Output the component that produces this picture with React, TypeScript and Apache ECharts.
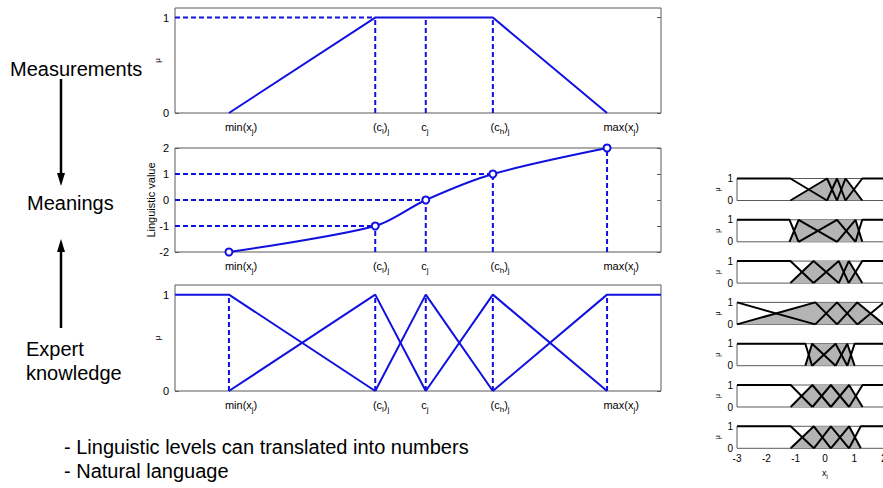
import React, { useEffect, useRef } from "react";
import * as echarts from "echarts";

// ---------- data ----------
// key positions along the x axis of the three main panels (0..100 scale)
const keyPointX = [11.1, 41.2, 51.6, 65.4, 88.9];
// positions of the tick labels (as drawn in the reference)
const tickLabelX = [13.6, 42.4, 51.4, 66.9, 91.8];
const tickLabels = ["min(x_j)", "(c_l)_j", "c_j", "(c_h)_j", "max(x_j)"];
// top panel: trapezoidal membership value at each key point
const measurementMu = [0, 1, 1, 1, 0];
// middle panel: linguistic value at each key point
const linguisticValues = [-2, -1, 0, 1, 2];
// small panels: peak positions of the 5 membership functions
const smallPeaks1 = [-1.18, 0.07, 0.41, 0.7, 1.27];
const smallPeaks2 = [-1.21, -0.9, 0.41, 1.04, 1.27];
const smallPeaks3 = [-1.18, -0.39, 0.47, 0.81, 1.27];
const smallPeaks4 = [-3.0, -0.33, 0.41, 1.1, 2.01];
const smallPeaks5 = [-0.67, -0.44, 0.36, 0.76, 1.01];
const smallPeaks6 = [-1.17, -0.43, 0.2, 0.82, 1.28];
const smallPeaks7 = [-1.17, -0.38, 0.2, 0.82, 1.22];
const smallPanels = [smallPeaks1, smallPeaks2, smallPeaks3, smallPeaks4, smallPeaks5, smallPeaks6, smallPeaks7];
const smallXTicks = [-3, -2, -1, 0, 1, 2];

// ---------- styling ----------
const FONT = '"Liberation Sans", Arial, Helvetica, sans-serif';
const BLUE = "#1010e0";
const BORDER = "#5a5a5a";
const DASH = [5, 3];

const rich = {
  n: { fontSize: 11, color: "#000", verticalAlign: "top", lineHeight: 13, fontFamily: FONT },
  s: { fontSize: 8, color: "#000", verticalAlign: "top", lineHeight: 9, padding: [6, 0, 0, 0], fontFamily: FONT },
};
const richSmall = {
  n: { fontSize: 9, color: "#000", verticalAlign: "top", lineHeight: 11, fontFamily: FONT },
  s: { fontSize: 6, color: "#000", verticalAlign: "top", lineHeight: 7, padding: [5, 0, 0, 0], fontFamily: FONT },
};

function richLabel(s: string): string {
  let out = "";
  let buf = "";
  let i = 0;
  while (i < s.length) {
    if (s[i] === "_") {
      if (buf) out += `{n|${buf}}`;
      buf = "";
      out += `{s|${s[i + 1]}}`;
      i += 2;
    } else {
      buf += s[i];
      i++;
    }
  }
  if (buf) out += `{n|${buf}}`;
  return out;
}

const MAIN_GRIDS = [
  { left: 175, top: 8, width: 486, height: 105 },
  { left: 175, top: 148, width: 486, height: 104 },
  { left: 175, top: 285, width: 486, height: 106 },
];
const SMALL_TOP0 = 178.5;
const SMALL_STEP = 41.3;
const SMALL_H = 22;

function buildOption() {
  const grid: any[] = [];
  const xAxis: any[] = [];
  const yAxis: any[] = [];
  const series: any[] = [];

  MAIN_GRIDS.forEach((g) => grid.push({ ...g, show: true, borderColor: BORDER, borderWidth: 1, backgroundColor: "#fff" }));
  smallPanels.forEach((_, i) =>
    grid.push({ left: 737, width: 176, top: SMALL_TOP0 + i * SMALL_STEP, height: SMALL_H, show: true, borderColor: BORDER, borderWidth: 1, backgroundColor: "#fff" })
  );

  // main axes
  const yRanges = [
    { min: 0, max: 1.1, ticks: [0, 1], name: "μ", nameSize: 8, gap: 14 },
    { min: -2, max: 2, ticks: [-2, -1, 0, 1, 2], name: "Linguistic value", nameSize: 11, gap: 19 },
    { min: 0, max: 1.1, ticks: [0, 1], name: "μ", nameSize: 8, gap: 14 },
  ];
  MAIN_GRIDS.forEach((_, i) => {
    xAxis.push({
      gridIndex: i,
      type: "value",
      min: 0,
      max: 100,
      axisLine: { show: false },
      axisTick: { show: false },
      splitLine: { show: false },
      axisLabel: {
        customValues: tickLabelX,
        margin: 8,
        rich,
        formatter: (v: number) => {
          const idx = tickLabelX.indexOf(v);
          return idx >= 0 ? richLabel(tickLabels[idx]) : "";
        },
      },
    });
    const r = yRanges[i];
    yAxis.push({
      gridIndex: i,
      type: "value",
      min: r.min,
      max: r.max,
      axisLine: { show: false },
      splitLine: { show: false },
      axisTick: { show: true, inside: true, length: 4, customValues: r.ticks, lineStyle: { color: BORDER } },
      axisLabel: { customValues: r.ticks, color: "#000", fontSize: 11, margin: 6, fontFamily: FONT },
      name: r.name,
      nameLocation: "middle",
      nameRotate: 90,
      nameGap: r.gap,
      nameMoveOverlap: false,
      nameTextStyle: { fontSize: r.nameSize, color: "#000", fontFamily: FONT },
    });
    yAxis.push({
      gridIndex: i,
      type: "value",
      position: "right",
      min: r.min,
      max: r.max,
      axisLine: { show: false },
      splitLine: { show: false },
      axisTick: { show: true, inside: true, length: 4, customValues: r.ticks, lineStyle: { color: BORDER } },
      axisLabel: { show: false },
    });
  });

  // small axes
  smallPanels.forEach((_, i) => {
    const gi = 3 + i;
    const last = i === smallPanels.length - 1;
    xAxis.push({
      gridIndex: gi,
      type: "value",
      min: -3,
      max: 3,
      interval: 1,
      axisLine: { show: false },
      splitLine: { show: false },
      axisTick: { show: false },
      axisLabel: last
        ? { show: true, customValues: smallXTicks, fontSize: 10, color: "#000", margin: 5, fontFamily: FONT }
        : { show: false },
      name: last ? richLabel("x_j") : "",
      nameLocation: "middle",
      nameGap: 20,
      nameMoveOverlap: false,
      nameTextStyle: { rich: richSmall },
    });
    yAxis.push({
      gridIndex: gi,
      type: "value",
      min: 0,
      max: 1,
      axisLine: { show: false },
      splitLine: { show: false },
      axisTick: { show: false },
      axisLabel: { customValues: [0, 1], fontSize: 10, color: "#000", margin: 4, fontFamily: FONT },
      name: "μ",
      nameLocation: "middle",
      nameRotate: 90,
      nameGap: 16,
      nameMoveOverlap: false,
      nameTextStyle: { fontSize: 7, color: "#000", fontFamily: FONT },
    });
  });

  const seg = (xi: number, yi: number, data: number[][], dashed: boolean, color = BLUE, width = 2) => ({
    type: "line",
    xAxisIndex: xi,
    yAxisIndex: yi,
    data,
    symbol: "none",
    clip: false,
    silent: true,
    lineStyle: { color, width, type: dashed ? DASH : "solid" },
    z: dashed ? 3 : 4,
  });

  // ---- top panel (axes x0, y0) ----
  series.push(seg(0, 0, keyPointX.map((x, i) => [x, measurementMu[i]]), false));
  series.push(seg(0, 0, [[0, 1], [keyPointX[1], 1]], true));
  [1, 2, 3].forEach((k) => series.push(seg(0, 0, [[keyPointX[k], 0], [keyPointX[k], 1]], true)));

  // ---- middle panel (axes x1, y2) ----
  [1, 2, 3].forEach((k) => series.push(seg(1, 2, [[0, linguisticValues[k]], [keyPointX[k], linguisticValues[k]]], true)));
  [1, 2, 3, 4].forEach((k) => series.push(seg(1, 2, [[keyPointX[k], -2], [keyPointX[k], linguisticValues[k]]], true)));
  series.push({
    type: "line",
    xAxisIndex: 1,
    yAxisIndex: 2,
    data: keyPointX.map((x, i) => [x, linguisticValues[i]]),
    smooth: 0.3,
    symbol: "emptyCircle",
    symbolSize: 7,
    clip: false,
    itemStyle: { color: BLUE, borderColor: BLUE, borderWidth: 1.8 },
    lineStyle: { color: BLUE, width: 2 },
    z: 5,
  });

  // ---- bottom panel (axes x2, y4) ----
  const k = keyPointX;
  const mfs = [
    [[0, 1], [k[0], 1], [k[1], 0]],
    [[k[0], 0], [k[1], 1], [k[2], 0]],
    [[k[1], 0], [k[2], 1], [k[3], 0]],
    [[k[2], 0], [k[3], 1], [k[4], 0]],
    [[k[3], 0], [k[4], 1], [100, 1]],
  ];
  mfs.forEach((d) => series.push(seg(2, 4, d, false)));
  k.forEach((x) => series.push(seg(2, 4, [[x, 0], [x, 1]], true)));

  // ---- small panels ----
  smallPanels.forEach((p, i) => {
    const xi = 3 + i;
    const yi = 6 + i;
    series.push({
      type: "line",
      xAxisIndex: xi,
      yAxisIndex: yi,
      data: [[p[0], 0], [p[1], 1], [p[3], 1], [p[4], 0]],
      symbol: "none",
      silent: true,
      lineStyle: { width: 0, opacity: 0 },
      areaStyle: { color: "#b4b4b4", opacity: 1 },
      z: 2,
    });
    const lines = [
      [[-3, 1], [p[0], 1], [p[1], 0]],
      [[p[0], 0], [p[1], 1], [p[2], 0]],
      [[p[1], 0], [p[2], 1], [p[3], 0]],
      [[p[2], 0], [p[3], 1], [p[4], 0]],
      [[p[3], 0], [p[4], 1], [3, 1]],
    ];
    lines.forEach((d) => series.push(seg(xi, yi, d, false, "#000", 2)));
  });

  const txt = (text: string, x: number, y: number, size = 20) => ({
    type: "text",
    x,
    y,
    silent: true,
    style: { text, fontSize: size, fontFamily: FONT, fill: "#000", align: "left", verticalAlign: "middle" },
  });

  const graphic = [
    txt("Measurements", 10, 69),
    txt("Meanings", 27, 203),
    txt("Expert", 26, 349),
    txt("knowledge", 26, 373),
    txt("- Linguistic levels can translated into numbers", 64, 447),
    txt("- Natural language", 64, 471),
    { type: "line", shape: { x1: 61, y1: 79, x2: 61, y2: 176 }, style: { stroke: "#000", lineWidth: 2.5 }, silent: true },
    { type: "polygon", shape: { points: [[57, 173], [65, 173], [61, 186]] }, style: { fill: "#000" }, silent: true },
    { type: "line", shape: { x1: 61, y1: 328, x2: 61, y2: 249 }, style: { stroke: "#000", lineWidth: 2.5 }, silent: true },
    { type: "polygon", shape: { points: [[57, 252], [65, 252], [61, 239]] }, style: { fill: "#000" }, silent: true },
  ];

  return {
    animation: false,
    backgroundColor: "#fff",
    textStyle: { fontFamily: FONT },
    grid,
    xAxis,
    yAxis,
    series,
    graphic,
  };
}

export default function App() {
  const ref = useRef<HTMLDivElement>(null);
  useEffect(() => {
    if (!ref.current) return;
    const chart = echarts.init(ref.current, null, { renderer: "svg" });
    chart.setOption(buildOption() as any);
    return () => chart.dispose();
  }, []);
  // The drawing is wider than the window so that the right-hand small panels are cut at the window edge,
  // as in the reference.
  return (
    <div style={{ position: "fixed", left: 0, top: 0, width: "883px", height: "488px", overflow: "hidden", background: "#fff" }}>
      <div ref={ref} style={{ position: "absolute", left: 0, top: 0, width: "920px", height: "488px" }} />
    </div>
  );
}
